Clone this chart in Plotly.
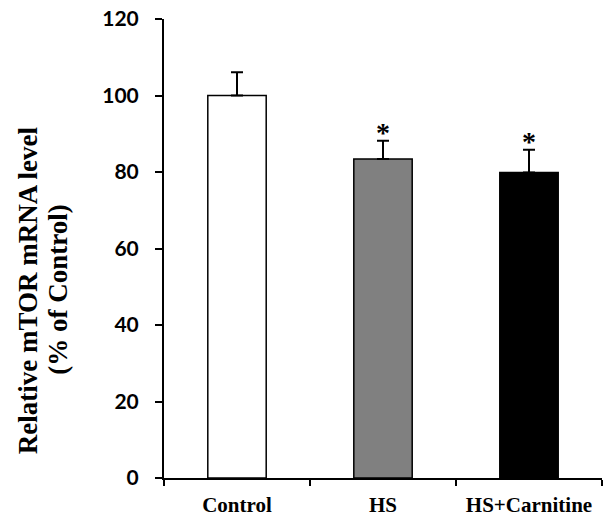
import plotly.graph_objects as go

categories = ["Control", "HS", "HS+Carnitine"]
means = [100, 83.4, 79.9]
err_plus = [6.1, 4.8, 5.9]
err_minus = [0, 0, 0]
bar_colors = ["#ffffff", "#808080", "#000000"]
stars = ["", "*", "*"]
y_ticks = [0, 20, 40, 60, 80, 100, 120]
title_lines = ["Relative mTOR mRNA level", "(% of Control)"]

fig = go.Figure()
fig.add_trace(go.Bar(
    x=categories, y=means,
    marker=dict(color=bar_colors, line=dict(color="black", width=1.5)),
    width=0.40,
    error_y=dict(type="data", symmetric=False, array=err_plus, arrayminus=err_minus,
                 color="black", thickness=2, width=6),
    showlegend=False,
))

for c, m, e, s in zip(categories, means, err_plus, stars):
    if s:
        fig.add_annotation(x=c, y=m + e, text=s, showarrow=False, xanchor="center",
                           yanchor="bottom", yshift=-9,
                           font=dict(family="Liberation Serif", size=28, color="black", weight="bold"))

for xp, line in zip([-0.312, -0.242], title_lines):
    fig.add_annotation(
        xref="paper", yref="paper", x=xp, y=0.41,
        text=line, textangle=-90, showarrow=False, xanchor="center", yanchor="middle",
        font=dict(family="Liberation Serif", size=27, color="black", weight="bold"),
    )

fig.update_layout(
    width=606, height=518,
    margin=dict(l=164, r=4, t=19, b=40, autoexpand=False),
    paper_bgcolor="white", plot_bgcolor="white",
)
fig.update_xaxes(
    type="category", tickson="boundaries", ticks="outside", ticklen=6, tickwidth=2,
    tickcolor="black", showline=True, linecolor="black", linewidth=2,
    tickfont=dict(family="Liberation Serif", size=21, color="black", weight="bold"),
    ticklabelstandoff=7, ticklabeloverflow="allow",
    showgrid=False, zeroline=False, automargin=False,
)
fig.update_yaxes(
    range=[0, 120], tickvals=y_ticks, ticks="outside", ticklen=7, tickwidth=2,
    tickcolor="black", showline=True, linecolor="black", linewidth=2,
    tickfont=dict(family="Lato", size=21, color="black", weight="bold"),
    ticklabelstandoff=12, ticklabeloverflow="allow",
    showgrid=False, zeroline=False, automargin=False,
)

# remove the browser's default 8px body margin so the figure fills the window exactly
fig.write_html("out.html", config={"displayModeBar": False},
               post_script="document.body.style.margin='0';")
